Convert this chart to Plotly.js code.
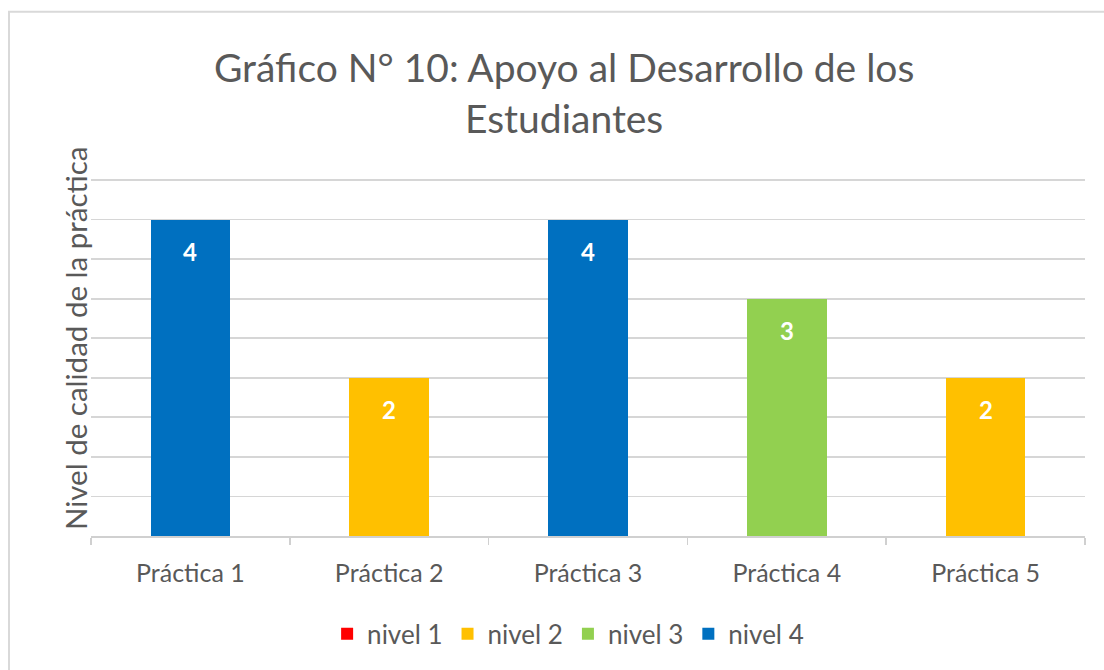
<!DOCTYPE html>
<html>
<head>
<meta charset="utf-8">
<script src="https://cdn.plot.ly/plotly-3.0.1.min.js"></script>
<style>html,body{margin:0;padding:0;background:#fff;}#chart{width:1104px;height:670px;}</style>
</head>
<body>
<div id="chart"></div>
<script>
const categories = ["Práctica 1", "Práctica 2", "Práctica 3", "Práctica 4", "Práctica 5"];
const seriesNames = ["nivel 1", "nivel 2", "nivel 3", "nivel 4"];
const nivel1 = [null, null, null, null, null];
const nivel2 = [null, 2, null, null, 2];
const nivel3 = [null, null, null, 3, null];
const nivel4 = [4, null, 4, null, null];
const seriesColors = ["#FF0000", "#FFC000", "#92D050", "#0070C0"];
const titleText = "Gráfico N° 10: Apoyo al Desarrollo de los<br>Estudiantes";
const yTitle = "Nivel de calidad de la práctica";

const FONT = "Lato, 'Liberation Sans', sans-serif";
const TXT = "#595959";
const allSeries = [nivel1, nivel2, nivel3, nivel4];

const traces = allSeries.map((vals, i) => ({
  type: "bar",
  name: seriesNames[i],
  x: categories,
  y: vals,
  marker: {color: seriesColors[i]},
  hoverinfo: "skip"
}));

const annotations = [];
allSeries.forEach(vals => {
  vals.forEach((v, j) => {
    if (v !== null) {
      annotations.push({
        x: categories[j], y: v, xref: "x", yref: "y",
        text: String(v), showarrow: false, yshift: -32,
        font: {family: FONT, size: 24, color: "#ffffff", weight: "bold"}
      });
    }
  });
});
annotations.push({
  xref: "paper", yref: "paper", x: -0.016, y: 0.55,
  xanchor: "center", yanchor: "middle", textangle: -90,
  text: yTitle, showarrow: false,
  font: {family: FONT, size: 29.5, color: TXT}
});

const layout = {
  width: 1104, height: 670,
  paper_bgcolor: "#ffffff", plot_bgcolor: "#ffffff",
  margin: {l: 91, r: 19, t: 176, b: 134},
  font: {family: FONT, color: TXT},
  title: {
    text: titleText, x: 0.511, xanchor: "center",
    y: 0.877, yref: "container", yanchor: "top",
    font: {family: FONT, size: 39, color: TXT}
  },
  barmode: "stack",
  bargap: 0.6,
  showlegend: true,
  legend: {
    orientation: "h", x: 0.48, xanchor: "center", y: -0.272, yanchor: "middle",
    font: {family: FONT, size: 26, color: TXT}, traceorder: "normal"
  },
  xaxis: {
    type: "category", showgrid: false, zeroline: false,
    showline: true, linecolor: "#d0d0d0", linewidth: 1.5,
    ticks: "outside", tickson: "boundaries", ticklen: 7, tickcolor: "#d0d0d0", tickwidth: 1.5,
    ticklabelstandoff: 14,
    tickfont: {family: FONT, size: 25, color: TXT}
  },
  yaxis: {
    range: [0, 4.55], tickvals: [0.5, 1, 1.5, 2, 2.5, 3, 3.5, 4, 4.5],
    showticklabels: false, showgrid: true, gridcolor: "#d6d6d6", gridwidth: 1.8,
    zeroline: false, showline: false, ticks: ""
  },
  shapes: [{
    type: "rect", xref: "paper", yref: "paper",
    x0: -0.0825, y0: -0.6, x1: 1.1, y1: 1.456,
    line: {color: "#d9d9d9", width: 2}, fillcolor: "rgba(0,0,0,0)", layer: "below"
  }],
  annotations: annotations
};

Plotly.newPlot("chart", traces, layout, {displayModeBar: false, staticPlot: true});
</script>
</body>
</html>
